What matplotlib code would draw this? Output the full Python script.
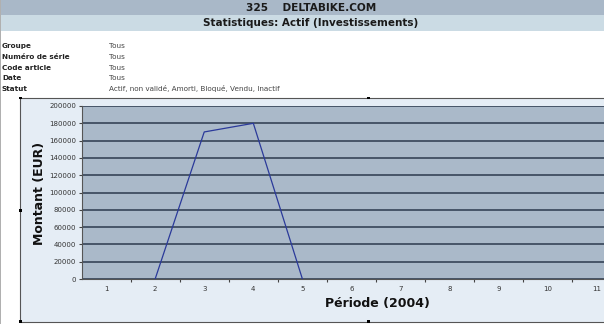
import numpy as np
import matplotlib
matplotlib.use("Agg")
import matplotlib.pyplot as plt
from matplotlib.patches import Rectangle

# data
periodes = [1, 2, 3, 4, 5, 6, 7, 8, 9, 10, 11]
montants = [np.nan, 0, 170000, 180000, 0, np.nan, np.nan, np.nan, np.nan, np.nan, np.nan]
y_ticks = list(range(0, 200001, 20000))

titre1 = "325    DELTABIKE.COM"
titre2 = "Statistiques: Actif (Investissements)"
filtres = ["Groupe", "Numéro de série", "Code article", "Date", "Statut"]
valeurs = ["Tous", "Tous", "Tous", "Tous",
           "Actif, non validé, Amorti, Bloqué, Vendu, Inactif"]

W, H = 604, 324
fig = plt.figure(figsize=(W / 100, H / 100), dpi=100)
fig.patch.set_facecolor("white")


def px(x, y):
    # pixel (from top-left) -> figure fraction
    return x / W, 1 - y / H


def rect(x0, y0, x1, y1, z=-1, **kw):
    (a, b), (c, d) = px(x0, y1), px(x1, y0)
    fig.add_artist(Rectangle((a, b), c - a, d - b, transform=fig.transFigure,
                             zorder=z, **kw))


# bandeau du haut
rect(0, 0, W, 14.5, facecolor="#a9b8c8", edgecolor="none")
rect(0, 14.5, W, 31, facecolor="#cbdbe4", edgecolor="none")
rect(0, 0, 1.2, H, facecolor="#b0b0b0", edgecolor="none")

fig.text(*px(311, 8), titre1, ha="center", va="center", fontsize=7.6,
         fontweight="bold", color="#1a1a1a")
fig.text(*px(311, 23), titre2, ha="center", va="center", fontsize=7.5,
         fontweight="bold", color="#1a1a1a")

row_y = [46, 57, 67.5, 78, 89]
for lab, val, y in zip(filtres, valeurs, row_y):
    fig.text(*px(2, y), lab, ha="left", va="center", fontsize=5.2,
             fontweight="bold", color="#222222")
    fig.text(*px(109, y), val, ha="left", va="center", fontsize=5.2,
             color="#444444")

# cadre du graphique
rect(20, 97.5, W + 5, 322, facecolor="#e5edf5", edgecolor="#555555", linewidth=0.8)

ax_l, ax_r, ax_t, ax_b = 81.5, 621.5, 106, 279
l, b = px(ax_l, ax_b)
r, t = px(ax_r, ax_t)
ax = fig.add_axes([l, b, r - l, t - b])
ax.set_facecolor("#aab9c9")

ax.plot(periodes, montants, color="#2b3a9a", linewidth=0.9, zorder=3)

ax.set_xlim(0.5, 11.5)
ax.set_ylim(0, 200000)
ax.set_yticks(y_ticks)
ax.set_yticklabels([str(v) for v in y_ticks])
ax.yaxis.grid(True, color="#364457", linewidth=1.2)
ax.set_axisbelow(True)

ax.set_xticks([p + 0.5 for p in periodes[:-1]])
ax.set_xticklabels([])
ax.set_xticks(periodes, minor=True)
ax.set_xticklabels([str(p) for p in periodes], minor=True)
ax.tick_params(axis="x", which="major", length=2, width=0.8, color="#444444", direction="out")
ax.tick_params(axis="x", which="minor", length=0, pad=5, labelsize=5, labelcolor="#333333")
ax.tick_params(axis="y", length=2, width=0.8, color="#444444", pad=2,
               labelsize=5, labelcolor="#333333")

for s in ["top", "right"]:
    ax.spines[s].set_visible(False)
ax.spines["left"].set_color("#555555")
ax.spines["bottom"].set_color("#555555")
ax.spines["left"].set_linewidth(0.8)
ax.spines["bottom"].set_linewidth(0.8)

fig.text(*px(40, 193), "Montant (EUR)", rotation=90, ha="center", va="center",
         fontsize=9, fontweight="bold", color="#111111")
fig.text(*px(377, 304), "Période (2004)", ha="center", va="center",
         fontsize=9, fontweight="bold", color="#111111")

# poignées de sélection
for hx, hy in [(20, 98), (368, 98), (20, 210), (20, 321.5), (368, 321.5)]:
    rect(hx - 1.5, hy - 1.5, hx + 1.5, hy + 1.5, z=5, facecolor="black", edgecolor="none")

fig.savefig("out.png", dpi=100)
